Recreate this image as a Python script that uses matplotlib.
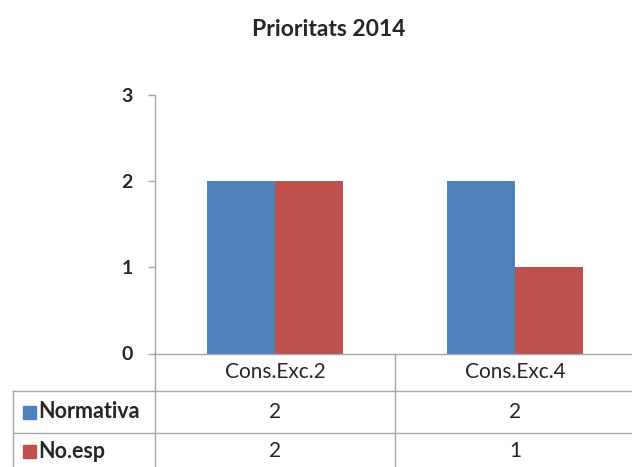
import matplotlib
matplotlib.use("Agg")
import matplotlib.pyplot as plt
from matplotlib.lines import Line2D
import matplotlib.transforms as mtransforms
import numpy as np

title = "Prioritats 2014"
categories = ["Cons.Exc.2", "Cons.Exc.4"]
series_names = ["Normativa", "No.esp"]
normativa = [2, 2]
no_esp = [2, 1]
colors = ["#4F81BD", "#C0504D"]
yticks = [0, 1, 2, 3]

W, H = 632, 467
fig = plt.figure(figsize=(W / 100, H / 100), dpi=100)
plt.rcParams['font.family'] = ['Lato', 'DejaVu Sans']

def fx(px):
    return px / W

def fy(py):
    return 1 - py / H

ax = fig.add_axes([fx(155), fy(353.5), fx(635) - fx(155), fy(95) - fy(353.5)])
x = np.arange(len(categories)) + 0.5
bw = 0.285
ax.bar(x - bw / 2, normativa, bw, color=colors[0], linewidth=0)
ax.bar(x + bw / 2, no_esp, bw, color=colors[1], linewidth=0)
ax.set_xlim(0, len(categories))
ax.set_ylim(0, 3)
ax.set_yticks(yticks)
ax.set_yticklabels([str(t) for t in yticks], fontsize=14, fontweight='bold', color='#262626')
ax.set_xticks([])
for s in ['top', 'right']:
    ax.spines[s].set_visible(False)
for s in ['left', 'bottom']:
    ax.spines[s].set_color('#A6A6A6')
    ax.spines[s].set_linewidth(1.0)
ax.tick_params(axis='y', length=5, width=1, color='#A6A6A6', pad=11)

fig.text(fx(329), fy(30), title, ha='center', va='center', fontsize=16.5, fontweight='bold', color='#262626')

# table grid
lc = '#A6A6A6'
def vline(xp, y0, y1):
    fig.add_artist(Line2D([fx(xp), fx(xp)], [fy(y0), fy(y1)], color=lc, lw=1.0))
def hline(y, x0, x1):
    fig.add_artist(Line2D([fx(x0), fx(x1)], [fy(y), fy(y)], color=lc, lw=1.0))

vline(155, 353.5, 467)
vline(395, 353.5, 467)
vline(13, 391, 467)
hline(391, 13, 632)
hline(433, 13, 632)

tr = mtransforms.blended_transform_factory(ax.transData, fig.transFigure)
row_y = [fy(372), fy(412), fy(451)]
for i, c in enumerate(categories):
    fig.text(x[i], row_y[0], c, transform=tr, ha='center', va='center', fontsize=15, color='#262626')
    fig.text(x[i], row_y[1], str(normativa[i]), transform=tr, ha='center', va='center', fontsize=15, color='#262626')
    fig.text(x[i], row_y[2], str(no_esp[i]), transform=tr, ha='center', va='center', fontsize=15, color='#262626')

for j, name in enumerate(series_names):
    yy = row_y[j + 1]
    fig.patches.append(plt.Rectangle((fx(23), yy - 6.5 / H), 13 / W, 13 / H,
                                     transform=fig.transFigure, color=colors[j], figure=fig))
    fig.text(fx(38), yy, name, ha='left', va='center', fontsize=15.5, fontweight='bold', color='#262626')

fig.savefig("out.png", dpi=100)
